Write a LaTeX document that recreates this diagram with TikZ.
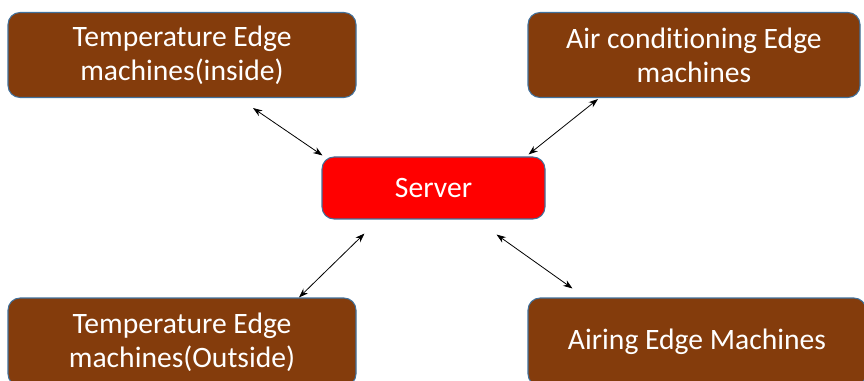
\documentclass[tikz,border=0pt]{standalone}
\usepackage{fontspec}
\setmainfont{Carlito}[Ligatures=NoCommon]
\usetikzlibrary{arrows.meta}
\definecolor{boxbrown}{HTML}{843C0C}
\definecolor{boxedge}{HTML}{41719C}
\definecolor{srvred}{HTML}{FF0000}
\tikzset{
  machine/.style={draw=boxedge, line width=0.8pt, fill=boxbrown, rounded corners=9pt,
    text=white, align=center, inner sep=0pt,
    font=\fontsize{22.2}{25.5}\selectfont},
  serverbox/.style={machine, fill=srvred},
  link/.style={{Stealth[length=7pt,width=5pt]}-{Stealth[length=7pt,width=5pt]}, line width=0.6pt, black}
}
\begin{document}
\begin{tikzpicture}[x=0.75pt,y=-0.75pt]
  \useasboundingbox (0,0) rectangle (864,381);
  \clip (0,0) rectangle (864,381);
  \fill[white] (0,0) rectangle (864,381);

  % edge machines and the central server
  \node[machine, minimum width=348*0.75pt, minimum height=85*0.75pt] (tl) at (182,55)
    {Temperature Edge\\machines(inside)};
  \node[machine, minimum width=332*0.75pt, minimum height=85*0.75pt] (tr) at (694,55)
    {Air conditioning Edge\\machines};
  \node[serverbox, minimum width=223*0.75pt, minimum height=62*0.75pt] (srv) at (433.5,188)
    {Server};
  \node[machine, minimum width=348*0.75pt, minimum height=88*0.75pt] (bl) at (182,342)
    {Temperature Edge\\machines(Outside)};
  \node[machine, minimum width=338*0.75pt, minimum height=88*0.75pt] (br) at (697,342)
    {Airing Edge Machines};

  % two-way links between the server and each group of machines
  \draw[link] ([shift={(71,10)}]tl.south) -- ([shift={(1,-1)}]srv.north west);
  \draw[link] ([shift={(-96,1)}]tr.south) -- ([shift={(-17,-2)}]srv.north east);
  \draw[link] ([shift={(43,14)}]srv.south west) -- ([shift={(117,0)}]bl.north);
  \draw[link] ([shift={(-49,15)}]srv.south east) -- ([shift={(45,-9)}]br.north west);
\end{tikzpicture}
\end{document}
